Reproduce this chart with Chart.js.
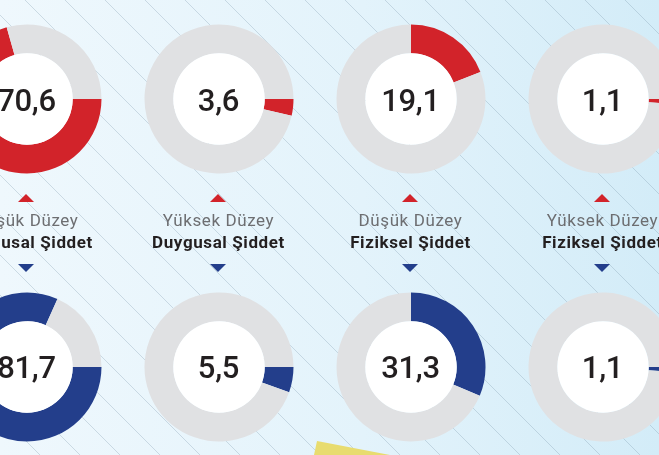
<!doctype html>
<html lang="tr">
<head>
<meta charset="utf-8">
<title>Şiddet düzeyleri</title>
<script src="https://cdn.jsdelivr.net/npm/chart.js@4.4.1/dist/chart.umd.min.js"></script>
<style>
  html, body { margin: 0; padding: 0; }
  body {
    width: 659px; height: 455px; overflow: hidden; position: relative;
    background: linear-gradient(90deg, #eff8fd 0%, #e3f3fb 55%, #d3ecf8 100%);
    font-family: Roboto, "Noto Sans", sans-serif;
  }
  #bg { position: absolute; left: 0; top: 0; }
  .donut { position: absolute; width: 150px; height: 150px; }
  .num {
    position: absolute; width: 100px; height: 40px; line-height: 40px;
    text-align: center; font-size: 31px; font-weight: 500; color: #231f20;
    letter-spacing: -0.3px;
  }
  .lbl { position: absolute; width: 180px; text-align: center; line-height: 21.5px; font-size: 17px; letter-spacing: 0.6px; }
  .lbl .l1 { color: #6d6e71; font-weight: 400; }
  .lbl .l2 { color: #231f20; font-weight: 700; }
  .tri { position: absolute; width: 0; height: 0; border-left: 8.5px solid transparent; border-right: 8.5px solid transparent; }
  .up { border-bottom: 8.5px solid #d2232a; }
  .down { border-top: 8.5px solid #233e8b; }
  #yellow { position: absolute; left: 0; top: 0; }
</style>
</head>
<body>
<canvas id="bg" width="659" height="455"></canvas>
<svg id="yellow" width="659" height="455"><polygon points="317,441 390,455 314,455" fill="#e8dc6f"/></svg>

<script>
// values (percent)
var levels = ["Düşük Düzey", "Yüksek Düzey", "Düşük Düzey", "Yüksek Düzey"];
var kinds = ["Duygusal Şiddet", "Duygusal Şiddet", "Fiziksel Şiddet", "Fiziksel Şiddet"];
var topValues = [70.6, 3.6, 19.1, 1.1];
var bottomValues = [81.7, 5.5, 31.3, 1.1];
var startAngles = [90, 90, 0, 90];

var centersX = [26.5, 218.5, 410.5, 602.5];
var topY = 99, bottomY = 366.5;

// striped background
var bg = document.getElementById("bg").getContext("2d");
bg.strokeStyle = "rgba(110,140,160,0.28)";
bg.lineWidth = 1;
for (var c = -480; c < 700; c += 40) {
  bg.beginPath();
  bg.moveTo(c + 25, 0);
  bg.lineTo(c + 25 + 455, 455);
  bg.stroke();
}

// white hole in the middle of each ring
var holePlugin = {
  id: "hole",
  afterDatasetsDraw: function(chart) {
    var arc = chart.getDatasetMeta(0).data[0];
    var ctx = chart.ctx;
    ctx.save();
    ctx.fillStyle = "#ffffff";
    ctx.beginPath();
    ctx.arc(arc.x, arc.y, arc.innerRadius, 0, Math.PI * 2);
    ctx.fill();
    ctx.restore();
  }
};

function fmt(v) { return v.toFixed(1).replace(".", ","); }

function addDonut(cx, cy, value, color, rotation) {
  var cv = document.createElement("canvas");
  cv.className = "donut";
  cv.width = 150; cv.height = 150;
  cv.style.left = (cx - 75) + "px";
  cv.style.top = (cy - 75) + "px";
  document.body.appendChild(cv);
  new Chart(cv.getContext("2d"), {
    type: "doughnut",
    data: {
      labels: ["value", "rest"],
      datasets: [{
        data: [value, 100 - value],
        backgroundColor: [color, "#e0e1e3"],
        borderWidth: 0,
        radius: 74.5,
        cutout: 46
      }]
    },
    options: {
      responsive: false,
      animation: false,
      devicePixelRatio: 1,
      rotation: rotation,
      layout: { padding: 0 },
      plugins: { legend: { display: false }, tooltip: { enabled: false } }
    },
    plugins: [holePlugin]
  });

  var n = document.createElement("div");
  n.className = "num";
  n.textContent = fmt(value);
  n.style.left = (cx - 50) + "px";
  n.style.top = (cy - 18.5) + "px";
  document.body.appendChild(n);
}

for (var i = 0; i < 4; i++) {
  var cx = centersX[i];
  addDonut(cx, topY, topValues[i], "#d2232a", startAngles[i]);
  addDonut(cx, bottomY, bottomValues[i], "#233e8b", startAngles[i]);

  var up = document.createElement("div");
  up.className = "tri up";
  up.style.left = (cx - 8.5) + "px";
  up.style.top = "194px";
  document.body.appendChild(up);

  var dn = document.createElement("div");
  dn.className = "tri down";
  dn.style.left = (cx - 8.5) + "px";
  dn.style.top = "264px";
  document.body.appendChild(dn);

  var lb = document.createElement("div");
  lb.className = "lbl";
  lb.style.left = (cx - 90) + "px";
  lb.style.top = "210px";
  lb.innerHTML = '<div class="l1"></div><div class="l2"></div>';
  lb.children[0].textContent = levels[i];
  lb.children[1].textContent = kinds[i];
  document.body.appendChild(lb);
}
</script>
</body>
</html>
